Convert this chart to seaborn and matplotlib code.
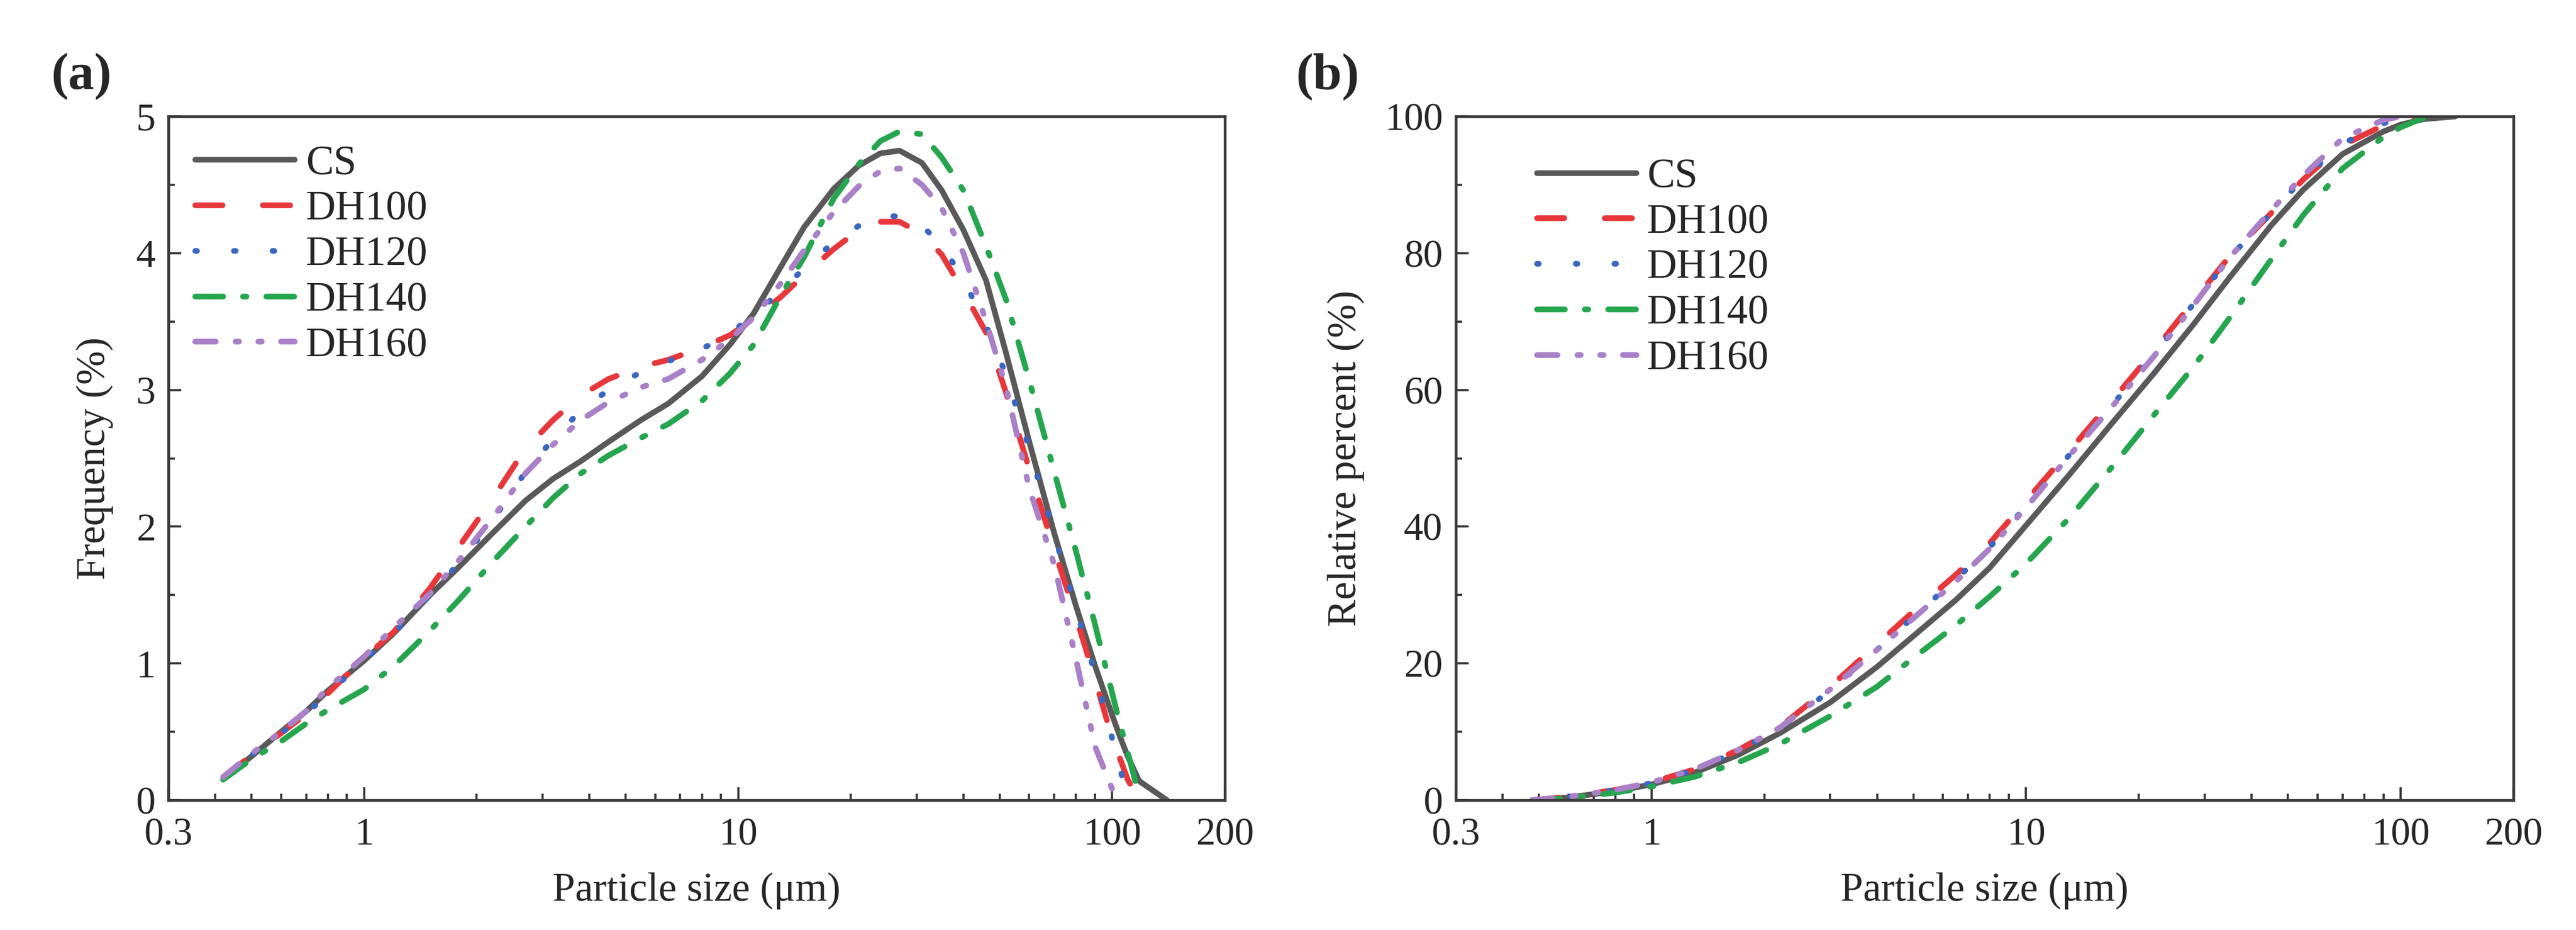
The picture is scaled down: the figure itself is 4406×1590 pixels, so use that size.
import numpy as np
import pandas as pd
import matplotlib
matplotlib.use("Agg")
import matplotlib.pyplot as plt
from matplotlib.ticker import FixedLocator, FixedFormatter, NullFormatter, MultipleLocator
from matplotlib.transforms import ScaledTranslation
import seaborn as sns

nan = np.nan

samples = ["CS", "DH100", "DH120", "DH140", "DH160"]
colors = ["#595959", "#e8373b", "#3b67c2", "#25a64e", "#aa80c8"]

# (a) frequency distribution, particle size in um
size_a = [0.42, 0.5, 0.6, 0.7, 0.8, 1.0, 1.2, 1.5, 1.8, 2.2,
          2.7, 3.2, 3.8, 4.5, 5.5, 6.5, 8, 9.5, 11, 13,
          15, 18, 21, 24, 27, 31, 35, 40, 46, 52,
          60, 70, 80, 90, 100, 105, 110, 118, 140]
freq_cs = [0.16, 0.32, 0.50, 0.65, 0.80, 1.02, 1.22, 1.50, 1.71, 1.95,
           2.19, 2.35, 2.48, 2.62, 2.78, 2.90, 3.10, 3.33, 3.56, 3.90,
           4.19, 4.47, 4.64, 4.73, 4.75, 4.66, 4.46, 4.17, 3.80, 3.27,
           2.62, 1.95, 1.42, 0.98, 0.62, 0.46, 0.32, 0.14, 0.0]
freq_dh100 = [0.16, 0.33, 0.49, 0.63, 0.78, 1.04, 1.23, 1.55, 1.86, 2.20,
              2.57, 2.78, 2.96, 3.08, 3.17, 3.22, 3.31, 3.40, 3.52, 3.68,
              3.84, 4.03, 4.17, 4.23, 4.23, 4.14, 3.99, 3.72, 3.42, 2.98,
              2.42, 1.83, 1.34, 0.88, 0.45, 0.30, 0.15, 0.0, nan]
freq_dh120 = [0.16, 0.33, 0.49, 0.63, 0.78, 1.02, 1.22, 1.50, 1.74, 2.04,
              2.40, 2.64, 2.85, 3.00, 3.13, 3.21, 3.30, 3.41, 3.55, 3.72,
              3.89, 4.08, 4.20, 4.27, 4.27, 4.20, 4.06, 3.81, 3.47, 3.11,
              2.57, 1.94, 1.40, 0.92, 0.45, 0.23, 0.0, nan, nan]
freq_dh140 = [0.15, 0.30, 0.43, 0.56, 0.66, 0.81, 0.98, 1.24, 1.47, 1.74,
              2.00, 2.21, 2.39, 2.52, 2.65, 2.75, 2.92, 3.12, 3.33, 3.69,
              3.97, 4.40, 4.65, 4.82, 4.89, 4.87, 4.70, 4.46, 4.05, 3.66,
              3.07, 2.40, 1.82, 1.28, 0.78, 0.55, 0.35, 0.03, nan]
freq_dh160 = [0.17, 0.34, 0.50, 0.65, 0.82, 1.05, 1.26, 1.51, 1.76, 2.06,
              2.39, 2.60, 2.78, 2.91, 3.02, 3.08, 3.22, 3.37, 3.53, 3.78,
              4.02, 4.30, 4.49, 4.60, 4.62, 4.50, 4.33, 4.00, 3.50, 3.02,
              2.28, 1.72, 1.03, 0.39, 0.08, nan, nan, nan, nan]

# (b) cumulative distribution
size_b = [0.48, 0.6, 0.8, 1.0, 1.3, 1.7, 2.2, 3.0, 4.0, 5.0,
          6.5, 8.0, 10, 13, 17, 22, 28, 35, 45, 55,
          70, 90, 100, 115, 140]
cum_cs = [0, 0.4, 1.3, 2.3, 4.0, 6.6, 9.8, 14.3, 19.5, 24.0,
          29.3, 34.0, 40.2, 47.5, 55.2, 62.5, 69.6, 76.5, 84.0, 89.3,
          94.5, 97.8, 98.8, 99.6, 100]
cum_dh100 = [0, 0.5, 1.5, 2.6, 4.5, 7.3, 10.7, 16.6, 22.8, 27.6,
             33.0, 37.6, 43.8, 51.0, 58.5, 65.8, 73.0, 79.6, 85.8, 90.8,
             95.8, 98.7, 99.4, 100, nan]
cum_dh120 = [0, 0.5, 1.5, 2.5, 4.4, 7.2, 10.5, 16.0, 22.0, 26.8,
             32.3, 37.0, 43.0, 50.4, 57.8, 65.2, 72.6, 79.4, 85.8, 91.0,
             96.0, 99.0, 99.7, 100, nan]
cum_dh140 = [0, 0.3, 1.1, 2.0, 3.4, 5.5, 8.2, 12.3, 16.6, 20.8,
             25.6, 29.8, 34.6, 41.2, 48.8, 56.4, 63.4, 70.6, 79.0, 85.6,
             92.4, 97.0, 98.4, 99.8, nan]
cum_dh160 = [0, 0.5, 1.5, 2.6, 4.5, 7.3, 10.6, 16.2, 22.0, 26.6,
             32.0, 36.8, 42.8, 50.3, 57.6, 65.0, 72.4, 79.4, 86.2, 91.4,
             96.8, 99.5, 100, nan, nan]

x_major = [0.3, 1, 10, 100, 200]
x_major_labels = ["0.3", "1", "10", "100", "200"]
x_minor = [0.4, 0.5, 0.6, 0.7, 0.8, 0.9, 2, 3, 4, 5, 6, 7, 8, 9,
           20, 30, 40, 50, 60, 70, 80, 90]

# line styles (units of line width, round caps)
dash_styles = {"CS": "", "DH100": (4.8, 7.1), "DH120": (0.3, 6.5),
               "DH140": (4.9, 3.5, 0.6, 3.5),
               "DH160": (3.6, 3.5, 0.6, 3.4, 0.6, 3.4)}


def long_frame(size, series):
    rows = []
    for name, vals in zip(samples, series):
        for s, v in zip(size, vals):
            rows.append((s, v, name))
    return pd.DataFrame(rows, columns=["size", "value", "sample"]).dropna()


sns.set_style("ticks")
plt.rcParams["font.family"] = ["Liberation Serif", "DejaVu Serif"]
plt.rcParams["lines.dash_capstyle"] = "round"
plt.rcParams["lines.solid_capstyle"] = "round"

fig = plt.figure(figsize=(22.03, 7.95), dpi=200)
ax1 = fig.add_axes([0.0654, 0.1396, 0.4101, 0.7352])
ax2 = fig.add_axes([0.5651, 0.1396, 0.4106, 0.7352])

df_a = long_frame(size_a, [freq_cs, freq_dh100, freq_dh120, freq_dh140, freq_dh160])
df_b = long_frame(size_b, [cum_cs, cum_dh100, cum_dh120, cum_dh140, cum_dh160])

panels = [
    (ax1, df_a, "Frequency (%)", (0, 5), 1, 0.5, (0.0255, 0.958), 14),
    (ax2, df_b, "Relative percent (%)", (0, 100), 20, 10, (0.0768, 0.939), 12),
]

for ax, df, ylab, ylim, ymaj, ymin, leg_pos, ypad in panels:
    sns.lineplot(data=df, x="size", y="value", hue="sample", style="sample",
                 hue_order=samples, style_order=samples, palette=colors,
                 dashes=dash_styles, linewidth=3.5, sort=False,
                 estimator=None, ax=ax)
    ax.set_xscale("log")
    ax.set_xlim(0.3, 200)
    ax.set_ylim(*ylim)
    ax.xaxis.set_major_locator(FixedLocator(x_major))
    ax.xaxis.set_major_formatter(FixedFormatter(x_major_labels))
    ax.xaxis.set_minor_locator(FixedLocator(x_minor))
    ax.xaxis.set_minor_formatter(NullFormatter())
    ax.yaxis.set_major_locator(MultipleLocator(ymaj))
    ax.yaxis.set_minor_locator(MultipleLocator(ymin))
    ax.tick_params(which="both", direction="in", top=False, right=False,
                   width=1.3, color="#333333", labelsize=24)
    ax.tick_params(axis="y", pad=8)
    ax.tick_params(axis="x", pad=10.5)
    ax.tick_params(which="major", length=8)
    ax.tick_params(which="minor", length=4)
    for sp in ax.spines.values():
        sp.set_linewidth(1.7)
        sp.set_color("#3a3a3a")
    ax.set_xlabel("Particle size (\u03bcm)", fontsize=25, labelpad=12)
    ax.set_ylabel(ylab, fontsize=25, labelpad=ypad)
    sns.move_legend(ax, "upper left", bbox_to_anchor=leg_pos, frameon=False,
                    title=None, fontsize=25.5, handlelength=2.4,
                    handletextpad=0.26, labelspacing=0.18, borderpad=0,
                    borderaxespad=0)

fig.canvas.draw()
# lift the "0" on the y axis a little so it clears the "0.3" below it
for ax in (ax1, ax2):
    lab0 = ax.yaxis.get_majorticklabels()[0]
    lab0.set_transform(lab0.get_transform()
                       + ScaledTranslation(0, 4 / 72, fig.dpi_scale_trans))

fig.text(0.0197, 0.918, "(a)", fontsize=32, fontweight="bold", va="center", ha="left")
fig.text(0.503, 0.918, "(b)", fontsize=32, fontweight="bold", va="center", ha="left")

fig.savefig("out.png", dpi=200, facecolor="white")
